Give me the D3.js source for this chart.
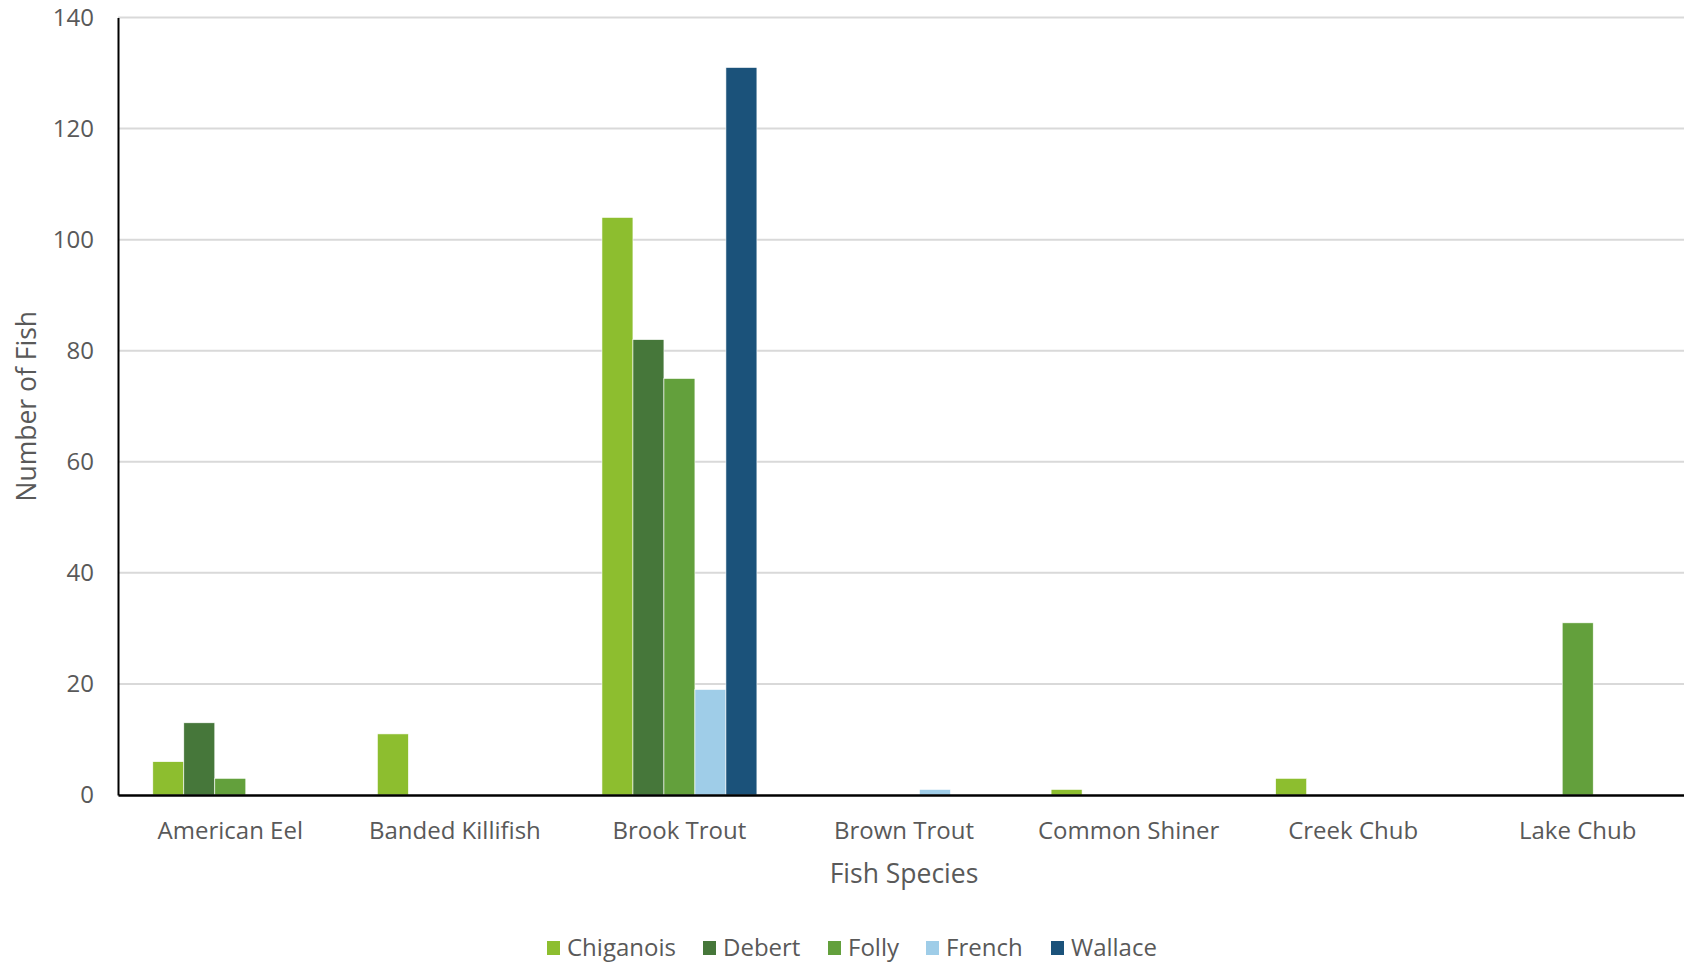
<!DOCTYPE html>
<html>
<head>
<meta charset="utf-8">
<script src="https://cdn.jsdelivr.net/npm/d3@7"></script>
<style>
  html, body { margin: 0; padding: 0; background: #fff; }
  svg { display: block; font-family: "Open Sans", sans-serif; }
</style>
</head>
<body>
<svg id="chart" width="1684" height="963"></svg>
<script>
// Fish counts by species and river
const species = ["American Eel", "Banded Killifish", "Brook Trout", "Brown Trout", "Common Shiner", "Creek Chub", "Lake Chub"];
const rivers = ["Chiganois", "Debert", "Folly", "French", "Wallace"];
const riverColors = ["#8dbe2f", "#46773a", "#63a03c", "#9fcde8", "#1b527a"];

const chiganois = [6, 11, 104, 0, 1, 3, 0];
const debert    = [13, 0, 82, 0, 0, 0, 0];
const folly     = [3, 0, 75, 0, 0, 0, 31];
const french    = [0, 0, 19, 1, 0, 0, 0];
const wallace   = [0, 0, 131, 0, 0, 0, 0];
const seriesValues = [chiganois, debert, folly, french, wallace];

const yTicks = [0, 20, 40, 60, 80, 100, 120, 140];

const svg = d3.select("#chart");
const margin = { left: 118, right: -6, top: 17.5, bottom: 168 };
const W = 1684, H = 963;
const x0 = margin.left, x1 = W - margin.right;
const yTop = margin.top, yBot = H - margin.bottom;

const x = d3.scaleBand().domain(species).range([x0, x1]).paddingInner(0).paddingOuter(0);
const groupPad = 0.155;
const xs = d3.scaleBand().domain(rivers)
  .range([x.bandwidth() * groupPad, x.bandwidth() * (1 - groupPad)]);
const y = d3.scaleLinear().domain([0, 140]).range([yBot, yTop]);
const color = d3.scaleOrdinal().domain(rivers).range(riverColors);

// Gridlines
svg.append("g")
  .selectAll("line")
  .data(yTicks.filter(d => d > 0))
  .join("line")
  .attr("x1", x0).attr("x2", x1)
  .attr("y1", d => y(d)).attr("y2", d => y(d))
  .attr("stroke", "#d9d9d9").attr("stroke-width", 2);

// Bars
const rows = [];
species.forEach((s, i) => rivers.forEach((r, j) => rows.push({ s, r, v: seriesValues[j][i] })));
svg.append("g")
  .selectAll("rect")
  .data(rows.filter(d => d.v > 0))
  .join("rect")
  .attr("x", d => x(d.s) + xs(d.r))
  .attr("width", xs.bandwidth())
  .attr("y", d => y(d.v))
  .attr("height", d => y(0) - y(d.v))
  .attr("fill", d => color(d.r))
  .attr("stroke", "#fff").attr("stroke-width", 0.6);

// Y axis
const yAxis = svg.append("g")
  .attr("transform", `translate(${x0},0)`)
  .call(d3.axisLeft(y).tickValues(yTicks).tickSize(0).tickPadding(24));
yAxis.select(".domain").attr("stroke", "#000").attr("stroke-width", 2);
yAxis.selectAll("text").attr("font-size", 24).attr("fill", "#595959")
  .attr("font-family", "Open Sans, sans-serif");

// X axis
const xAxis = svg.append("g")
  .attr("transform", `translate(0,${yBot})`)
  .call(d3.axisBottom(x).tickSize(0).tickPadding(27));
xAxis.select(".domain").attr("stroke", "#000").attr("stroke-width", 2.5);
xAxis.selectAll("text").attr("font-size", 24).attr("fill", "#595959")
  .attr("font-family", "Open Sans, sans-serif");

// Axis titles
svg.append("text")
  .attr("transform", `translate(36,${(yTop + yBot) / 2}) rotate(-90)`)
  .attr("text-anchor", "middle")
  .attr("font-size", 26.5).attr("fill", "#595959")
  .text("Number of Fish");

svg.append("text")
  .attr("x", (x0 + x1) / 2).attr("y", 883)
  .attr("text-anchor", "middle")
  .attr("font-size", 26.5).attr("fill", "#595959")
  .text("Fish Species");

// Legend
const legendX = [547, 703, 828, 926, 1051];
const legend = svg.append("g").selectAll("g")
  .data(rivers)
  .join("g")
  .attr("transform", (d, i) => `translate(${legendX[i]},941)`);
legend.append("rect").attr("width", 13).attr("height", 14).attr("fill", d => color(d));
legend.append("text")
  .attr("x", 20).attr("y", 15)
  .attr("font-size", 24).attr("fill", "#595959")
  .text(d => d);
</script>
</body>
</html>
